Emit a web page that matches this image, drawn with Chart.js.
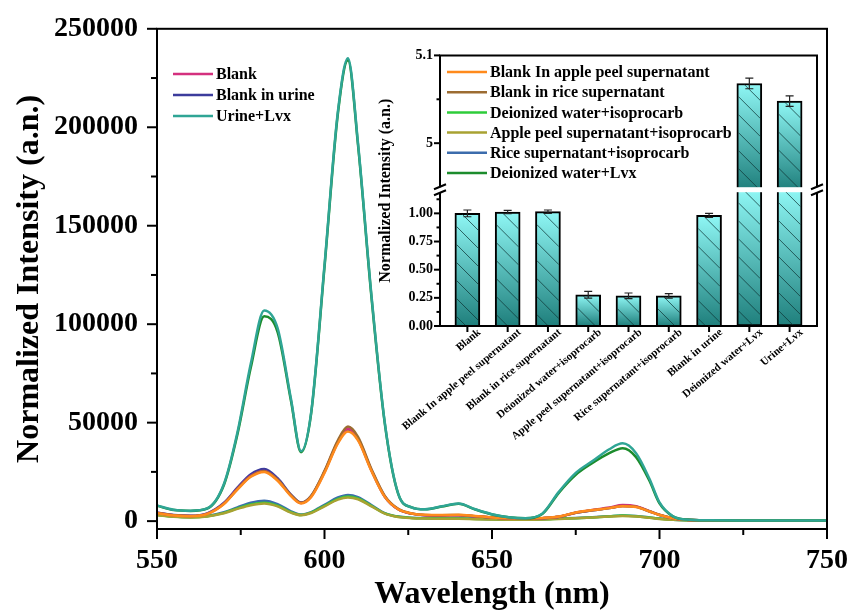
<!DOCTYPE html>
<html>
<head>
<meta charset="utf-8">
<script src="https://cdn.jsdelivr.net/npm/chart.js@4"></script>
<style>
  body { margin: 0; background: #fff; overflow: hidden; }
  #wrap { position: relative; width: 852px; height: 611px; overflow: hidden; }
  #main { position: absolute; left: 0; top: -7px; }
  #inset { position: absolute; left: 370px; top: 40px; }
</style>
</head>
<body>
<div id="wrap">
  <canvas id="main" width="863" height="618"></canvas>
  <canvas id="inset" width="460" height="420"></canvas>
</div>
<script>
// emission spectra
const wavelengths = [550, 555, 560, 565, 570, 574, 578, 582, 586, 590, 593, 596, 600, 604, 607, 610, 614, 618, 622, 626, 630, 635, 640, 645, 650, 655, 660, 665, 670, 675, 680, 685, 689, 693, 697, 700, 704, 708, 715, 725, 735, 750];

const urineLvx   = [8000, 5800, 5300, 6500, 19000, 45000, 80000, 107000, 98000, 62000, 35500, 55000, 130000, 208000, 235000, 192000, 115000, 50000, 14000, 7000, 6000, 7500, 9000, 6000, 3500, 2000, 1500, 3800, 15000, 24500, 30500, 36500, 39500, 34500, 21500, 9500, 2500, 800, 400, 300, 300, 300];
const waterLvx   = [7800, 5600, 5200, 6400, 18500, 44000, 78000, 104000, 96000, 61000, 35000, 54500, 129000, 207000, 234000, 191000, 114000, 49500, 13800, 7000, 6000, 7400, 8800, 5900, 3400, 2000, 1500, 3600, 14500, 23500, 29500, 34500, 37000, 32500, 20500, 9000, 2400, 800, 400, 300, 300, 300];
const blank      = [4200, 3000, 2600, 3800, 9000, 16500, 23000, 25500, 21000, 13000, 9200, 12500, 25000, 40500, 47000, 42000, 26000, 12500, 6000, 3800, 3000, 2900, 3000, 2500, 1800, 1400, 1300, 1500, 2200, 4300, 5700, 6900, 8200, 7600, 5100, 3200, 1500, 700, 400, 300, 300, 300];
const blankUrine = [4300, 3100, 2700, 3900, 9300, 17000, 23800, 26500, 21800, 13500, 9400, 12700, 25000, 40000, 46500, 41500, 25800, 12400, 6000, 3800, 3000, 2900, 3000, 2500, 1800, 1400, 1300, 1500, 2200, 4300, 5500, 6600, 7700, 7300, 4900, 3100, 1500, 700, 400, 300, 300, 300];
const blankApple = [4000, 2900, 2500, 3600, 8700, 16000, 22500, 25000, 20500, 12700, 9000, 12200, 24500, 39500, 45500, 41000, 25500, 12300, 6000, 3900, 3200, 3100, 3200, 2600, 1900, 1500, 1400, 1600, 2300, 4400, 5600, 6600, 7600, 7200, 4900, 3100, 1500, 700, 400, 300, 300, 300];
const blankRice  = [4100, 3000, 2600, 3700, 8900, 16300, 22800, 25300, 21000, 13200, 9300, 12800, 25500, 41000, 48000, 42800, 26500, 12800, 6200, 3900, 3100, 3000, 3100, 2500, 1800, 1400, 1300, 1500, 2200, 4300, 5500, 6600, 7700, 7300, 5000, 3200, 1500, 700, 400, 300, 300, 300];
const waterIso   = [3200, 2300, 2000, 2500, 4200, 6500, 8500, 9300, 7800, 4500, 3100, 4300, 7800, 11300, 12500, 11500, 7800, 3900, 2200, 1600, 1400, 1300, 1300, 1100, 900, 800, 800, 900, 1200, 1500, 1900, 2400, 2800, 2500, 1800, 1200, 700, 400, 300, 250, 250, 250];
const appleIso   = [3000, 2200, 1900, 2400, 4000, 6200, 8100, 9000, 7500, 4300, 3000, 4100, 7500, 10900, 12000, 11100, 7500, 3800, 2100, 1500, 1300, 1200, 1200, 1000, 850, 750, 750, 850, 1100, 1400, 1800, 2300, 2600, 2400, 1700, 1100, 650, 400, 300, 250, 250, 250];
const riceIso    = [3300, 2400, 2100, 2600, 4500, 7000, 9300, 10300, 8600, 5000, 3300, 4600, 8300, 12000, 13300, 12200, 8200, 4100, 2300, 1700, 1500, 1400, 1400, 1200, 950, 850, 850, 950, 1300, 1600, 2000, 2500, 2900, 2600, 1900, 1300, 750, 450, 300, 250, 250, 250];

const xMajor = [550, 600, 650, 700, 750];
const xMinor = [575, 625, 675, 725];
const yMajor = [0, 50000, 100000, 150000, 200000, 250000];
const yMinor = [25000, 75000, 125000, 175000, 225000];

// inset bar chart
const barLabels = ["Blank", "Blank In apple peel supernatant", "Blank in rice supernatant", "Deionized water+isoprocarb", "Apple peel supernatant+isoprocarb", "Rice supernatant+isoprocarb", "Blank in urine", "Deionized water+Lvx", "Urine+Lvx"];
const barValues = [1.00, 1.012, 1.015, 0.277, 0.268, 0.268, 0.982, 5.068, 5.048];
const barErrors = [0.03, 0.015, 0.015, 0.03, 0.025, 0.02, 0.018, 0.006, 0.006];
const lowRange = [0, 1.21];
const highRange = [4.947, 5.1];
const lowTicks = [0, 0.25, 0.5, 0.75, 1];
const lowMinor = [0.125, 0.375, 0.625, 0.875, 1.125];
const highTicks = [5, 5.1];
const highMinor = [5.05];

const mainLegend = ["Blank", "Blank in urine", "Urine+Lvx"];
const insetLegend = ["Blank In apple peel supernatant", "Blank in rice supernatant", "Deionized water+isoprocarb", "Apple peel supernatant+isoprocarb", "Rice supernatant+isoprocarb", "Deionized water+Lvx"];

const colors = {
  "Blank": "#d4307e",
  "Blank in urine": "#3c3c9c",
  "Urine+Lvx": "#2fa595",
  "Blank In apple peel supernatant": "#ff8a1c",
  "Blank in rice supernatant": "#9c6c32",
  "Deionized water+isoprocarb": "#2ecc3a",
  "Apple peel supernatant+isoprocarb": "#a8a232",
  "Rice supernatant+isoprocarb": "#3c6cac",
  "Deionized water+Lvx": "#1c8c2c"
};

// first one ends up on top
const drawOrder = [
  ["Urine+Lvx", urineLvx],
  ["Deionized water+Lvx", waterLvx],
  ["Blank In apple peel supernatant", blankApple],
  ["Blank in rice supernatant", blankRice],
  ["Blank", blank],
  ["Blank in urine", blankUrine],
  ["Apple peel supernatant+isoprocarb", appleIso],
  ["Deionized water+isoprocarb", waterIso],
  ["Rice supernatant+isoprocarb", riceIso]
];

const serif = "'Liberation Serif', 'Times New Roman', serif";
Chart.defaults.font.family = serif;
Chart.defaults.font.weight = "bold";
Chart.defaults.color = "#000";

function pts(arr) {
  return wavelengths.map((w, i) => ({ x: w, y: arr[i] }));
}

function drawLegend(ctx, names, x, y0, dy) {
  ctx.save();
  ctx.font = "bold 16px " + serif;
  ctx.textBaseline = "middle";
  ctx.fillStyle = "#000";
  names.forEach((n, i) => {
    const y = y0 + i * dy;
    ctx.strokeStyle = colors[n];
    ctx.lineWidth = 2.5;
    ctx.beginPath();
    ctx.moveTo(x, y);
    ctx.lineTo(x + 40, y);
    ctx.stroke();
    ctx.fillText(n, x + 43, y + 1);
  });
  ctx.restore();
}

function xTicks(ctx, scale, y0, vals, len) {
  vals.forEach((v) => {
    const px = scale.getPixelForValue(v);
    ctx.beginPath();
    ctx.moveTo(px, y0);
    ctx.lineTo(px, y0 + len);
    ctx.stroke();
  });
}

function yTicks(ctx, scale, x0, vals, len) {
  vals.forEach((v) => {
    const py = scale.getPixelForValue(v);
    ctx.beginPath();
    ctx.moveTo(x0, py);
    ctx.lineTo(x0 - len, py);
    ctx.stroke();
  });
}

const mainDecor = {
  id: "mainDecor",
  afterDraw(chart) {
    const { ctx, chartArea: a } = chart;
    ctx.save();
    ctx.strokeStyle = "#000";
    ctx.lineWidth = 2;
    ctx.strokeRect(a.left, a.top, a.right - a.left, a.bottom - a.top);
    xTicks(ctx, chart.scales.x, a.bottom, xMajor, 10);
    xTicks(ctx, chart.scales.x, a.bottom, xMinor, 6);
    yTicks(ctx, chart.scales.y, a.left, yMajor, 10);
    yTicks(ctx, chart.scales.y, a.left, yMinor, 6);
    ctx.restore();
    // canvas sits 7px above the page
    drawLegend(ctx, mainLegend, 173, 81, 21);
  }
};

new Chart(document.getElementById("main"), {
  type: "line",
  data: {
    datasets: drawOrder.map(([n, arr]) => ({
      label: n,
      data: pts(arr),
      borderColor: colors[n],
      borderWidth: 2.5,
      pointRadius: 0,
      cubicInterpolationMode: "monotone",
      fill: false
    }))
  },
  options: {
    responsive: false,
    animation: false,
    layout: { padding: 0 },
    plugins: { legend: { display: false }, tooltip: { enabled: false } },
    scales: {
      x: {
        type: "linear",
        min: 550,
        max: 750,
        grid: { display: false, drawTicks: false },
        border: { display: false },
        afterBuildTicks: (s) => { s.ticks = xMajor.map((v) => ({ value: v })); },
        afterFit: (s) => { s.height = 82; },
        ticks: { font: { size: 28, weight: "bold" }, color: "#000", padding: 15 },
        title: {
          display: true,
          text: "Wavelength (nm)",
          color: "#000",
          font: { size: 32, weight: "bold", lineHeight: 1 },
          padding: 0
        }
      },
      y: {
        min: -4000,
        max: 250000,
        grid: { display: false, drawTicks: false },
        border: { display: false },
        afterBuildTicks: (s) => { s.ticks = yMajor.map((v) => ({ value: v })); },
        afterFit: (s) => { s.width = 157; },
        ticks: { font: { size: 28, weight: "bold" }, color: "#000", padding: 19, callback: (v) => String(v) },
        title: {
          display: true,
          text: "Normalized Intensity (a.n.)",
          color: "#000",
          font: { size: 32, weight: "bold", lineHeight: 1 },
          padding: { top: 14, bottom: 0 }
        }
      }
    }
  },
  plugins: [mainDecor]
});

// ---- inset ----
const lowMax = lowRange[1];

function barFill(c) {
  const chart = c.chart;
  const scale = chart.scales[c.dataset.yAxisID];
  if (!chart.chartArea || !scale || !c.raw || c.raw.y == null) return "#4cc";
  const yTop = scale.getPixelForValue(Math.min(c.raw.y, scale.max));
  const yBot = scale.getPixelForValue(scale.min);
  const g = chart.ctx.createLinearGradient(0, yTop, 0, yBot);
  g.addColorStop(0, "#8ff7f5");
  g.addColorStop(1, "#1f7f7c");
  return g;
}

const insetDecor = {
  id: "insetDecor",
  afterDatasetsDraw(chart) {
    const ctx = chart.ctx;
    // hatching
    chart.data.datasets.forEach((ds, di) => {
      chart.getDatasetMeta(di).data.forEach((el, i) => {
        if (ds.data[i].y == null) return;
        const p = el.getProps(["x", "y", "base", "width"], true);
        const l = p.x - p.width / 2 + 1.5, r = p.x + p.width / 2 - 1.5;
        const t = Math.min(p.y, p.base) + 1, b = Math.max(p.y, p.base);
        ctx.save();
        ctx.beginPath();
        ctx.rect(l, t, r - l, b - t);
        ctx.clip();
        ctx.strokeStyle = "rgba(15,55,55,0.75)";
        ctx.lineWidth = 1;
        const w = r - l;
        for (let k = t - w - 20; k < b + 20; k += 18) {
          ctx.beginPath();
          ctx.moveTo(l, k);
          ctx.lineTo(r, k + w);
          ctx.stroke();
        }
        ctx.restore();
      });
    });
    // error bars
    const lo = chart.scales.yLow, hi = chart.scales.yHigh, xs = chart.scales.x;
    ctx.save();
    ctx.strokeStyle = "#222";
    ctx.lineWidth = 1.2;
    barValues.forEach((v, i) => {
      const s = v > lowMax ? hi : lo;
      const x = xs.getPixelForValue(i + 1);
      const y1 = s.getPixelForValue(v + barErrors[i]);
      const y2 = s.getPixelForValue(v - barErrors[i]);
      ctx.beginPath();
      ctx.moveTo(x, y1); ctx.lineTo(x, y2);
      ctx.moveTo(x - 4, y1); ctx.lineTo(x + 4, y1);
      ctx.moveTo(x - 4, y2); ctx.lineTo(x + 4, y2);
      ctx.stroke();
    });
    ctx.restore();
  },
  afterDraw(chart) {
    const { ctx, chartArea: a } = chart;
    const lo = chart.scales.yLow, hi = chart.scales.yHigh;
    const gy = hi.top < lo.top ? hi.bottom : lo.bottom;
    ctx.save();
    ctx.fillStyle = "#fff";
    ctx.fillRect(a.left + 1, gy - 2.5, a.right - a.left - 2, 5);
    ctx.strokeStyle = "#000";
    ctx.lineWidth = 2;
    ctx.beginPath();
    ctx.moveTo(a.left, gy - 2.5);
    ctx.lineTo(a.left, a.top);
    ctx.lineTo(a.right, a.top);
    ctx.lineTo(a.right, gy - 2.5);
    ctx.moveTo(a.right, gy + 2.5);
    ctx.lineTo(a.right, a.bottom);
    ctx.lineTo(a.left, a.bottom);
    ctx.lineTo(a.left, gy + 2.5);
    ctx.stroke();
    // break marks
    [a.left, a.right].forEach((x) => {
      ctx.beginPath();
      ctx.moveTo(x - 6, gy - 0.5); ctx.lineTo(x + 6, gy - 5.5);
      ctx.moveTo(x - 6, gy + 5.5); ctx.lineTo(x + 6, gy + 0.5);
      ctx.stroke();
    });
    xTicks(ctx, chart.scales.x, a.bottom, barValues.map((_, i) => i + 1), 6);
    yTicks(ctx, lo, a.left, lowTicks, 6);
    yTicks(ctx, lo, a.left, lowMinor, 3.5);
    yTicks(ctx, hi, a.left, highTicks, 6);
    yTicks(ctx, hi, a.left, highMinor, 3.5);
    // axis title
    ctx.translate(16, (a.top + a.bottom) / 2);
    ctx.rotate(-Math.PI / 2);
    ctx.font = "bold 16px " + serif;
    ctx.fillStyle = "#000";
    ctx.textAlign = "center";
    ctx.textBaseline = "middle";
    ctx.fillText("Normalized Intensity (a.n.)", 0, 0);
    ctx.restore();
    drawLegend(ctx, insetLegend, 77, 32, 20.2);
  }
};

const barBase = {
  grouped: false,
  barThickness: 25,
  borderColor: "#000",
  borderWidth: 2,
  backgroundColor: barFill
};

new Chart(document.getElementById("inset"), {
  type: "bar",
  data: {
    datasets: [
      Object.assign({}, barBase, {
        data: barValues.map((v, i) => ({ x: i + 1, y: Math.min(v, lowMax) })),
        yAxisID: "yLow",
        borderSkipped: (c) => (barValues[c.dataIndex] > lowMax ? "top" : "start")
      }),
      Object.assign({}, barBase, {
        data: barValues.map((v, i) => ({ x: i + 1, y: v > lowMax ? v : null })),
        yAxisID: "yHigh",
        base: highRange[0],
        borderSkipped: "start"
      })
    ]
  },
  options: {
    responsive: false,
    animation: false,
    layout: { padding: { top: 13, right: 13, left: 0, bottom: 0 } },
    plugins: { legend: { display: false }, tooltip: { enabled: false } },
    scales: {
      x: {
        type: "linear",
        min: 0.32,
        max: 9.68,
        offset: false,
        grid: { display: false, drawTicks: false },
        border: { display: false },
        afterBuildTicks: (s) => { s.ticks = barLabels.map((_, i) => ({ value: i + 1 })); },
        afterFit: (s) => { s.height = 134; },
        ticks: {
          autoSkip: false,
          maxRotation: 40,
          minRotation: 40,
          padding: 0,
          labelOffset: 12,
          font: { size: 11, weight: "bold" },
          color: "#000",
          callback: (v, i) => barLabels[i]
        }
      },
      yLow: {
        type: "linear",
        position: "left",
        stack: "inset",
        stackWeight: 137.5,
        min: lowRange[0],
        max: lowRange[1],
        grid: { display: false, drawTicks: false },
        border: { display: false },
        afterBuildTicks: (s) => { s.ticks = lowTicks.map((v) => ({ value: v })); },
        afterFit: (s) => { s.width = 70; },
        ticks: { font: { size: 14, weight: "bold" }, color: "#000", padding: 7, callback: (v) => v.toFixed(2) }
      },
      yHigh: {
        type: "linear",
        position: "left",
        stack: "inset",
        stackWeight: 135.5,
        min: highRange[0],
        max: highRange[1],
        grid: { display: false, drawTicks: false },
        border: { display: false },
        afterBuildTicks: (s) => { s.ticks = highTicks.map((v) => ({ value: v })); },
        afterFit: (s) => { s.width = 70; },
        ticks: { font: { size: 14, weight: "bold" }, color: "#000", padding: 7, callback: (v) => (v === 5 ? "5" : v.toFixed(1)) }
      }
    }
  },
  plugins: [insetDecor]
});
</script>
</body>
</html>
